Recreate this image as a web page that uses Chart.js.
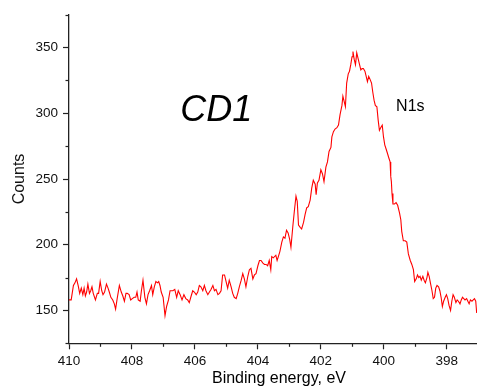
<!DOCTYPE html>
<html><head><meta charset="utf-8">
<script src="https://cdn.jsdelivr.net/npm/chart.js@4"></script>
<style>html,body{margin:0;padding:0;background:#fff;}#wrap{width:477px;height:392px;position:relative}</style>
</head><body><div id="wrap"><canvas id="c" width="477" height="392"></canvas></div>
<script>
const bindingEnergy = [
  410.00,409.93,409.86,409.81,409.76,409.71,409.66,409.61,409.56,409.52,
  409.48,409.44,409.40,409.35,409.31,409.27,409.23,409.16,409.10,409.06,
  409.01,408.96,408.92,408.87,408.81,408.76,408.72,408.67,408.61,408.56,
  408.52,408.47,408.40,408.34,408.29,408.24,408.19,408.15,408.09,408.04,
  407.99,407.93,407.88,407.84,407.80,407.74,407.70,407.65,407.59,407.54,
  407.49,407.44,407.38,407.34,407.29,407.24,407.19,407.15,407.11,407.07,
  407.01,406.95,406.90,406.84,406.79,406.70,406.64,406.58,406.53,406.47,
  406.41,406.35,406.29,406.23,406.18,406.12,406.07,406.02,405.96,405.91,
  405.86,405.81,405.75,405.70,405.65,405.59,405.54,405.49,405.43,405.38,
  405.33,405.27,405.22,405.17,405.12,405.06,405.01,404.96,404.91,404.85,
  404.80,404.75,404.69,404.64,404.59,404.53,404.48,404.43,404.38,404.32,
  404.27,404.22,404.16,404.11,404.06,404.00,403.95,403.90,403.84,403.79,
  403.74,403.69,403.64,403.59,403.56,403.51,403.43,403.39,403.35,403.30,
  403.24,403.19,403.14,403.09,403.04,402.99,402.95,402.89,402.84,402.79,
  402.75,402.71,402.65,402.61,402.55,402.50,402.45,402.40,402.34,402.29,
  402.24,402.18,402.15,402.11,402.06,402.00,401.95,401.90,401.84,401.79,
  401.74,401.68,401.65,401.60,401.55,401.49,401.44,401.39,401.33,401.30,
  401.26,401.22,401.18,401.13,401.09,401.05,401.01,400.98,400.94,400.90,
  400.86,400.82,400.78,400.73,400.69,400.65,400.60,400.56,400.52,400.48,
  400.44,400.39,400.35,400.31,400.27,400.22,400.18,400.14,400.10,400.05,
  400.01,399.97,399.93,399.89,399.84,399.80,399.78,399.76,399.74,399.71,
  399.66,399.61,399.56,399.50,399.46,399.43,399.38,399.32,399.27,399.22,
  399.16,399.11,399.06,399.02,398.97,398.93,398.89,398.85,398.81,398.76,
  398.72,398.68,398.63,398.60,398.56,398.52,398.47,398.43,398.39,398.35,
  398.31,398.26,398.22,398.18,398.14,398.10,398.05,398.01,397.97,397.93,
  397.88,397.84,397.80,397.76,397.71,397.67,397.63,397.58,397.54,397.50,
  397.46,397.42,397.37,397.33,397.29,397.25,397.20,397.16,397.12,397.08,
  397.05
];
const counts = [
  158,158,169,171,174,169,163,167,162,167,
  161,164,170,163,165,168,163,158,163,163,
  172,165,162,164,170,167,164,160,158,155,
  151,159,169,164,161,157,163,163,162,158,
  159,160,160,164,158,157,165,173,160,155,
  162,165,169,162,168,172,171,172,169,164,
  160,146,153,158,165,165,166,160,165,162,
  158,162,159,158,156,161,165,164,162,164,
  169,168,165,169,165,162,164,166,169,165,
  166,162,163,165,177,177,172,167,173,168,
  163,160,159,163,168,173,178,174,168,176,
  181,182,174,177,178,184,188,188,186,185,
  185,184,188,181,191,190,192,188,191,195,
  202,206,205,211,209,204,198,214,226,237,
  233,215,213,212,217,223,228,229,234,243,
  249,246,238,247,249,257,254,248,259,263,
  271,274,282,286,288,289,291,299,306,313,
  309,305,323,330,332,337,343,347,341,337,
  346,342,338,333,334,334,332,328,324,328,
  326,323,316,310,306,305,295,287,289,291,
  282,276,273,270,266,263,252,248,239,231,
  231,232,230,224,219,210,203,203,202,193,
  188,185,181,172,174,177,175,176,173,176,
  173,171,175,179,176,171,165,159,160,167,
  169,168,165,160,153,157,160,162,159,154,
  150,157,162,160,156,158,157,155,158,160,
  159,158,159,157,155,158,157,158,159,157,
  148
];
const xMajorTicks = [398, 400, 402, 404, 406, 408, 410];
const xMinorTicks = [399, 401, 403, 405, 407, 409];
const yMajorTicks = [150, 200, 250, 300, 350];
const yMinorTicks = [125, 175, 225, 275, 325, 375];
const xTitle = 'Binding energy, eV';
const yTitle = 'Counts';
const sampleLabel = 'CD1';
const peakLabel = 'N1s';

const FONT = '"Liberation Sans", Arial, Helvetica, sans-serif';
const AXIS = '#222';

const extras = {
  id: 'extras',
  afterDraw(chart) {
    const ctx = chart.ctx, xs = chart.scales.x, ys = chart.scales.y, ca = chart.chartArea;
    ctx.save();
    ctx.strokeStyle = AXIS; ctx.lineWidth = 1.2;
    xMinorTicks.forEach(v => {
      const px = Math.round(xs.getPixelForValue(v)) + 0.5;
      ctx.beginPath(); ctx.moveTo(px, ca.bottom); ctx.lineTo(px, ca.bottom + 3.5); ctx.stroke();
    });
    yMinorTicks.forEach(v => {
      const py = Math.round(ys.getPixelForValue(v)) + 0.5;
      ctx.beginPath(); ctx.moveTo(ca.left, py); ctx.lineTo(ca.left - 3.5, py); ctx.stroke();
    });
    ctx.fillStyle = '#000';
    ctx.textBaseline = 'alphabetic';
    ctx.textAlign = 'left';
    ctx.font = 'italic 36px ' + FONT;
    ctx.fillText(sampleLabel, xs.getPixelForValue(406.47), ys.getPixelForValue(294.2));
    ctx.font = '16px ' + FONT;
    ctx.fillText(peakLabel, xs.getPixelForValue(399.61), ys.getPixelForValue(301.8));
    ctx.textAlign = 'center';
    ctx.textBaseline = 'middle';
    ctx.font = '16px ' + FONT;
    ctx.fillText(xTitle, 279, 379);
    ctx.restore();
  }
};

new Chart(document.getElementById('c'), {
  type: 'line',
  data: {
    datasets: [{
      data: bindingEnergy.map((e, i) => ({ x: e, y: counts[i] })),
      borderColor: '#ff0000',
      borderWidth: 1.1,
      pointRadius: 0,
      tension: 0,
      fill: false
    }]
  },
  options: {
    responsive: false,
    devicePixelRatio: 1,
    animation: false,
    layout: { padding: { top: 14.7, right: 0, bottom: 0, left: 0 } },
    plugins: { legend: { display: false }, tooltip: { enabled: false } },
    scales: {
      x: {
        type: 'linear',
        reverse: true,
        min: 397.04,
        max: 410,
        afterBuildTicks: s => { s.ticks = xMajorTicks.map(v => ({ value: v })); },
        afterFit: s => { s.height = 48.7; },
        grid: { drawOnChartArea: false, drawTicks: true, tickLength: 6, tickColor: AXIS, tickWidth: 1.2 },
        border: { display: true, color: AXIS, width: 1.3 },
        ticks: { color: '#111', font: { family: FONT, size: 13.5 }, padding: 3.5, maxRotation: 0, autoSkip: false }
      },
      y: {
        type: 'linear',
        min: 125,
        max: 375,
        afterBuildTicks: s => { s.ticks = yMajorTicks.map(v => ({ value: v })); },
        afterFit: s => { s.width = 69; },
        grid: { drawOnChartArea: false, drawTicks: true, tickLength: 6, tickColor: AXIS, tickWidth: 1.2 },
        border: { display: true, color: AXIS, width: 1.3 },
        ticks: { color: '#111', font: { family: FONT, size: 13.5 }, padding: 5, autoSkip: false },
        title: { display: true, text: yTitle, color: '#111', font: { family: FONT, size: 16 }, padding: { top: 10, bottom: 0 } }
      }
    }
  },
  plugins: [extras]
});
</script>
</body></html>
